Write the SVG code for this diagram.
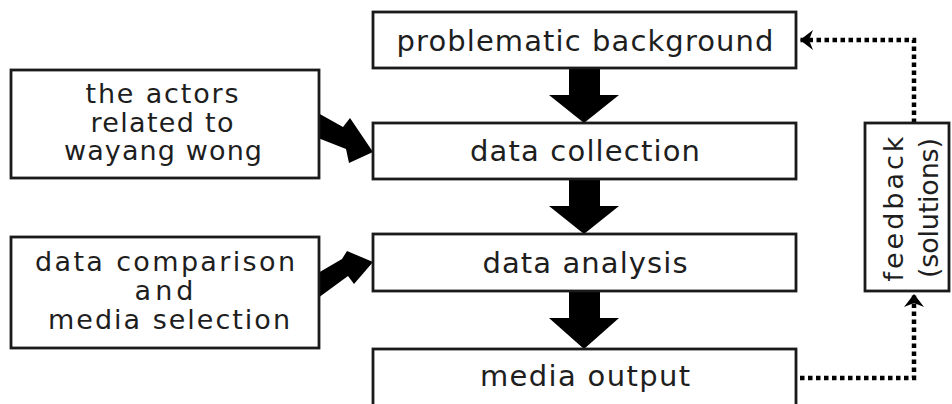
<svg xmlns="http://www.w3.org/2000/svg" width="952" height="404" viewBox="0 0 952 404">
<style>
.box{fill:#fff;stroke:#1a1a1a;stroke-width:2.8}
.t{font-family:"DejaVu Sans","Liberation Sans",sans-serif;font-size:29px;fill:#1e1e1e;text-anchor:middle}
.s{font-size:27px}
.fat{fill:#000}
.dot{fill:none;stroke:#000;stroke-width:4.5;stroke-dasharray:4.5 3.5}
</style>
<defs>
<marker id="chev" markerUnits="userSpaceOnUse" viewBox="0 0 24 24" markerWidth="24" markerHeight="24" refX="21" refY="12" orient="auto">
<path d="M8,2 L21,12 L8,22 L12,12 Z" fill="#000"/>
</marker>
</defs>
<rect width="952" height="404" fill="#fff"/>
<g id="connectors">
<polygon class="fat" points="569,68 600,68 600,95 619,95 584,123 549,95 569,95"/>
<polygon class="fat" points="569,179 600,179 600,206 619,206 584,234 549,206 569,206"/>
<polygon class="fat" points="569,291 600,291 600,318 619,318 584,349 549,318 569,318"/>
<polygon class="fat" points="318,113 343,127 350,118 373,152 349,163 346,149 318,138"/>
<polygon class="fat" points="318,273 342,259 347,251 373,262 354,284 348,276 318,298"/>
<path class="dot" d="M914,123 L914,40 L800,40" marker-end="url(#chev)"/>
<path class="dot" d="M800,378 L914,378 L914,294" marker-end="url(#chev)"/>
</g>
<g id="problematic-background">
<rect class="box" x="373" y="12" width="423" height="56"/>
<text class="t" x="585" y="51" textLength="377" lengthAdjust="spacing">problematic background</text>
</g>
<g id="data-collection">
<rect class="box" x="373" y="123" width="423" height="56"/>
<text class="t" x="585" y="161" textLength="230" lengthAdjust="spacing">data collection</text>
</g>
<g id="data-analysis">
<rect class="box" x="373" y="234" width="423" height="57"/>
<text class="t" x="585" y="273" textLength="205" lengthAdjust="spacing">data analysis</text>
</g>
<g id="media-output">
<rect class="box" x="373" y="349" width="423" height="57"/>
<text class="t" x="585" y="386" textLength="210" lengthAdjust="spacing">media output</text>
</g>
<g id="actors">
<rect class="box" x="11" y="70" width="308" height="108"/>
<text class="t s" x="162" y="103" textLength="153" lengthAdjust="spacing">the actors</text>
<text class="t s" x="162" y="132" textLength="143" lengthAdjust="spacing">related to</text>
<text class="t s" x="163" y="160" textLength="198" lengthAdjust="spacing">wayang wong</text>
</g>
<g id="comparison">
<rect class="box" x="11" y="237" width="308" height="111"/>
<text class="t s" x="165" y="271" textLength="260" lengthAdjust="spacing">data comparison</text>
<text class="t s" x="164" y="300" textLength="59" lengthAdjust="spacing">and</text>
<text class="t s" x="169" y="329" textLength="242" lengthAdjust="spacing">media selection</text>
</g>
<g id="feedback">
<rect class="box" x="865" y="123" width="84" height="168"/>
<text class="t s" transform="translate(903,209) rotate(-90)" textLength="145" lengthAdjust="spacing">feedback</text>
<text class="t s" transform="translate(938,208) rotate(-90)" textLength="140" lengthAdjust="spacing">(solutions)</text>
</g>
</svg>
